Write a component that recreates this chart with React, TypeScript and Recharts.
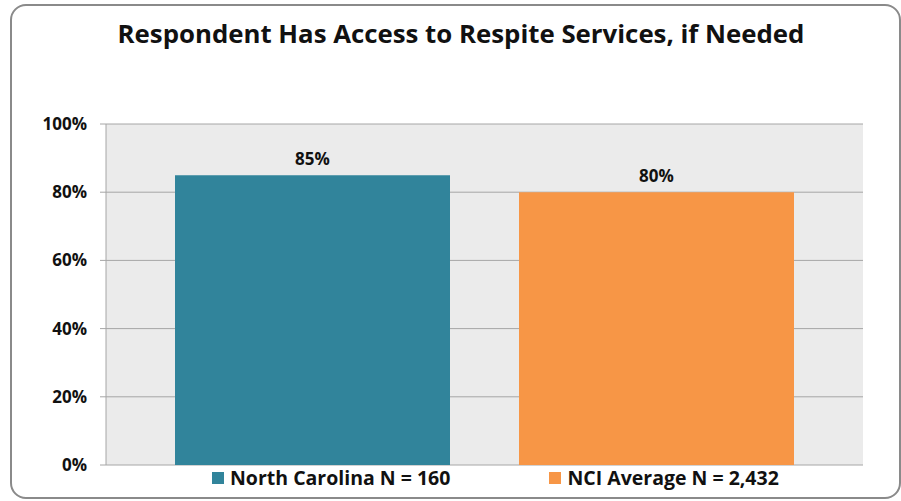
import { Bar, BarChart, CartesianGrid, LabelList, XAxis, YAxis } from "recharts";

const categories = ["Respite Services"];
const seriesNames = ["North Carolina N = 160", "NCI Average N = 2,432"];
const northCarolina = [0.85];
const nciAverage = [0.8];
const yTicks = [0, 0.2, 0.4, 0.6, 0.8, 1];
const colors = ["#31849B", "#F79646"];

const data = categories.map((name, i) => ({
  name,
  nc: northCarolina[i],
  nci: nciAverage[i]
}));

const pct = (v: number) => `${Math.round(v * 100)}%`;
const font = "'Open Sans', sans-serif";
const labelStyle = { fill: "#111", fontFamily: font, fontWeight: 700, fontSize: 17 };

export default function App() {
  return (
    <div style={{ position: "absolute", left: 0, top: 0, width: 901, height: 501, background: "#fff" }}>
      <div
        style={{
          position: "absolute",
          left: 10,
          top: 4,
          width: 887,
          height: 491,
          border: "2px solid #8a8a8a",
          borderRadius: 16
        }}
      />
      <div
        style={{
          position: "absolute",
          left: 0,
          width: 922,
          top: 15,
          textAlign: "center",
          fontFamily: font,
          fontWeight: 700,
          fontSize: 25.8,
          color: "#111"
        }}
      >
        Respondent Has Access to Respite Services, if Needed
      </div>
      <BarChart
        width={901}
        height={501}
        data={data}
        margin={{ top: 124, right: 38, bottom: 36, left: 0 }}
        barSize={275}
        barGap={69}
        style={{ position: "absolute", left: 0, top: 0 }}
      >
        <CartesianGrid vertical={false} fill="#EBEBEB" stroke="#A6A6A6" />
        <XAxis dataKey="name" hide />
        <YAxis
          width={106}
          domain={[0, 1]}
          ticks={yTicks}
          tickFormatter={pct}
          axisLine={{ stroke: "#A6A6A6" }}
          tickLine={{ stroke: "#A6A6A6" }}
          tickSize={6}
          tickMargin={13}
          tick={{ fill: "#111", fontFamily: font, fontWeight: 700, fontSize: 17 }}
        />
        <Bar dataKey="nc" name={seriesNames[0]} fill={colors[0]} isAnimationActive={false}>
          <LabelList dataKey="nc" position="top" offset={10} formatter={(v: any) => pct(Number(v))} style={labelStyle} />
        </Bar>
        <Bar dataKey="nci" name={seriesNames[1]} fill={colors[1]} isAnimationActive={false}>
          <LabelList dataKey="nci" position="top" offset={10} formatter={(v: any) => pct(Number(v))} style={labelStyle} />
        </Bar>
      </BarChart>
      <div
        style={{
          position: "absolute",
          left: 212,
          top: 464,
          display: "flex",
          gap: 99,
          fontFamily: font,
          fontWeight: 700,
          fontSize: 19.5,
          color: "#111"
        }}
      >
        {seriesNames.map((n, i) => (
          <div key={n} style={{ display: "flex", alignItems: "center" }}>
            <span style={{ width: 12, height: 12, background: colors[i], marginRight: 6, display: "inline-block" }} />
            {n}
          </div>
        ))}
      </div>
    </div>
  );
}
